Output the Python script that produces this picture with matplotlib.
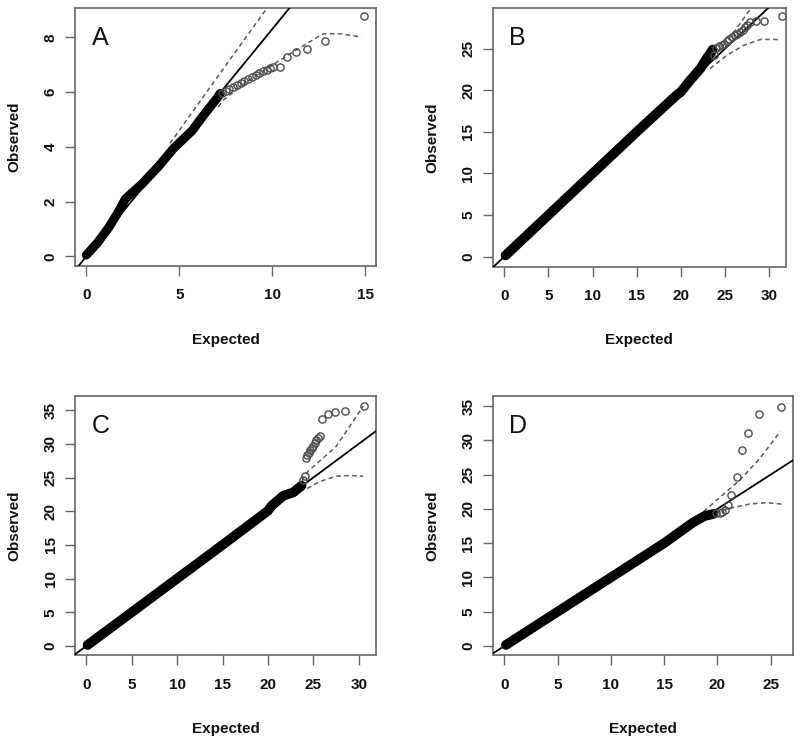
import matplotlib
matplotlib.use("Agg")
import matplotlib.pyplot as plt

plt.rcParams['font.family'] = ['Liberation Sans', 'DejaVu Sans']

# ---------------- Panel A ----------------
band_A_exp = [0.0, 0.6, 1.2, 1.7, 2.1, 3.0, 3.9, 4.7, 5.7, 6.3, 7.0, 7.2]
band_A_obs = [0.05, 0.5, 1.05, 1.6, 2.1, 2.65, 3.3, 3.95, 4.6, 5.15, 5.75, 5.95]
tail_A_exp = [7.3, 7.5, 7.7, 7.9, 8.1, 8.3, 8.5, 8.7, 8.9, 9.1, 9.3, 9.5, 9.7, 9.9, 10.05,
              10.42, 10.8, 11.3, 11.85, 12.83, 14.93]
tail_A_obs = [5.97, 6.05, 6.12, 6.2, 6.27, 6.33, 6.4, 6.47, 6.55, 6.62, 6.7, 6.76, 6.82, 6.88, 6.92,
              6.92, 7.28, 7.47, 7.59, 7.87, 8.78]
upper_A_exp = [4.5, 6.0, 8.0, 9.7]
upper_A_obs = [4.13, 5.55, 7.45, 9.05]
lower_A_exp = [7.1, 7.37, 8.62, 10.4, 11.85, 12.74, 13.64, 14.8]
lower_A_obs = [5.46, 5.71, 6.37, 7.16, 7.77, 8.13, 8.13, 8.01]
slope_A = 0.83

# ---------------- Panel B ----------------
band_B_exp = [0.15, 5.0, 10.0, 15.0, 19.5, 20.0, 21.05, 22.2, 22.9, 23.3, 23.6]
band_B_obs = [0.15, 5.0, 10.0, 15.0, 19.4, 19.8, 21.2, 22.6, 23.8, 24.4, 24.9]
tail_B_exp = [23.7, 24.0, 24.3, 24.6, 24.9, 25.2, 25.5, 25.8, 26.1, 26.4, 26.7, 27.0, 27.3, 27.5,
              27.85, 28.5, 29.4, 31.45]
tail_B_obs = [24.2, 25.1, 25.3, 25.4, 25.6, 25.9, 26.2, 26.4, 26.6, 26.8, 27.0, 27.3, 27.6, 27.8,
              28.2, 28.3, 28.3, 28.9]
upper_B_exp = [23.0, 24.5, 26.0, 27.9]
upper_B_obs = [23.2, 25.0, 27.0, 29.8]
lower_B_exp = [23.3, 25.2, 27.1, 29.0, 31.1]
lower_B_obs = [22.6, 24.2, 25.4, 26.1, 26.1]
slope_B = 1.0

# ---------------- Panel C ----------------
band_C_exp = [0.15, 5.0, 10.0, 15.0, 20.0, 20.4, 21.7, 22.8, 23.7]
band_C_obs = [0.15, 5.0, 10.0, 15.0, 20.06, 20.8, 22.3, 22.8, 23.8]
tail_C_exp = [23.9, 24.06, 24.2, 24.35, 24.5, 24.65, 24.8, 24.97, 25.15, 25.3, 25.5, 25.7,
              25.9, 26.6, 27.4, 28.5, 30.6]
tail_C_obs = [24.6, 25.2, 27.9, 28.3, 28.7, 29.1, 29.4, 29.7, 30.1, 30.5, 30.9, 31.2,
              33.7, 34.4, 34.7, 34.9, 35.6]
upper_C_exp = [23.3, 24.4, 27.5, 30.5]
upper_C_obs = [23.5, 25.9, 29.6, 35.6]
lower_C_exp = [23.5, 24.1, 25.7, 27.5, 29.0, 30.5]
lower_C_obs = [23.0, 23.2, 24.4, 25.2, 25.3, 25.2]
slope_C = 1.0

# ---------------- Panel D ----------------
band_D_exp = [0.15, 5.0, 10.0, 15.0, 17.7, 18.8, 19.6]
band_D_obs = [0.15, 5.0, 10.0, 15.0, 18.0, 18.96, 19.25]
tail_D_exp = [19.9, 20.2, 20.45, 20.7, 21.0, 21.3, 21.8, 22.3, 22.9, 23.9, 26.0]
tail_D_obs = [19.35, 19.45, 19.5, 19.9, 20.6, 22.0, 24.7, 28.6, 31.0, 33.9, 34.9]
upper_D_exp = [18.7, 22.1, 24.0, 25.9]
upper_D_obs = [19.6, 24.2, 27.4, 31.3]
lower_D_exp = [19.0, 21.2, 23.0, 24.6, 26.0]
lower_D_obs = [19.1, 20.1, 20.7, 20.9, 20.7]
slope_D = 1.0

panels = [
    dict(letter="A", band=(band_A_exp, band_A_obs), tail=(tail_A_exp, tail_A_obs),
         upper=(upper_A_exp, upper_A_obs), lower=(lower_A_exp, lower_A_obs), slope=slope_A,
         xlim=(-0.61, 15.58), ylim=(-0.35, 9.07), xticks=[0, 5, 10, 15], yticks=[0, 2, 4, 6, 8],
         rect=[75 / 800, 1 - 266 / 743, 301 / 800, 258 / 743], bw=6.5),
    dict(letter="B", band=(band_B_exp, band_B_obs), tail=(tail_B_exp, tail_B_obs),
         upper=(upper_B_exp, upper_B_obs), lower=(lower_B_exp, lower_B_obs), slope=slope_B,
         xlim=(-1.3, 31.9), ylim=(-1.2, 29.85), xticks=[0, 5, 10, 15, 20, 25, 30],
         yticks=[0, 5, 10, 15, 20, 25],
         rect=[492.7 / 800, 1 - 266.7 / 743, 293.3 / 800, 258.4 / 743], bw=7.0),
    dict(letter="C", band=(band_C_exp, band_C_obs), tail=(tail_C_exp, tail_C_obs),
         upper=(upper_C_exp, upper_C_obs), lower=(lower_C_exp, lower_C_obs), slope=slope_C,
         xlim=(-1.24, 31.9), ylim=(-1.38, 37.1), xticks=[0, 5, 10, 15, 20, 25, 30],
         yticks=[0, 5, 10, 15, 20, 25, 30, 35],
         rect=[75 / 800, 1 - 655.3 / 743, 301 / 800, 259.3 / 743], bw=7.0),
    dict(letter="D", band=(band_D_exp, band_D_obs), tail=(tail_D_exp, tail_D_obs),
         upper=(upper_D_exp, upper_D_obs), lower=(lower_D_exp, lower_D_obs), slope=slope_D,
         xlim=(-1.09, 27.06), ylim=(-1.36, 36.46), xticks=[0, 5, 10, 15, 20, 25],
         yticks=[0, 5, 10, 15, 20, 25, 30, 35],
         rect=[492.7 / 800, 1 - 655.3 / 743, 300 / 800, 259.3 / 743], bw=7.0),
]

fig = plt.figure(figsize=(8.0, 7.43), dpi=100)
box_col = "#666666"
dash_col = "#5a5a5a"

for p in panels:
    ax = fig.add_axes(p["rect"])
    ax.set_xlim(*p["xlim"])
    ax.set_ylim(*p["ylim"])
    # reference line
    ax.axline((0, 0), slope=p["slope"], color="black", lw=1.3, zorder=3)
    # confidence bands
    ax.plot(*p["upper"], color=dash_col, lw=1.1, dashes=(3, 2.2), zorder=2)
    ax.plot(*p["lower"], color=dash_col, lw=1.1, dashes=(3, 2.2), zorder=2)
    # dense observations
    ax.plot(*p["band"], color="black", lw=p["bw"], solid_capstyle="round",
            solid_joinstyle="round", zorder=4)
    # tail observations
    ax.plot(*p["tail"], linestyle="none", marker="o", markersize=5.2,
            markerfacecolor="none", markeredgecolor="#4d4d4d", markeredgewidth=1.0, zorder=4)

    ax.set_xticks(p["xticks"])
    ax.set_yticks(p["yticks"])
    ax.tick_params(axis="both", direction="out", length=7, width=1.0, color=box_col,
                   labelsize=11, labelcolor="#111111")
    ax.tick_params(axis="x", pad=9)
    ax.tick_params(axis="y", pad=5.5)
    for lab in ax.get_xticklabels() + ax.get_yticklabels():
        lab.set_fontweight("bold")
    for lab in ax.get_yticklabels():
        lab.set_rotation(90)
        lab.set_va("center")
    for s in ax.spines.values():
        s.set_color(box_col)
        s.set_linewidth(1.2)
    ax.set_xlabel("Expected", fontsize=11, fontweight="bold", color="#111111", labelpad=22)
    ax.set_ylabel("Observed", fontsize=11, fontweight="bold", color="#111111", labelpad=16)
    ax.text(0.085, 0.885, p["letter"], transform=ax.transAxes, fontsize=18,
            ha="center", va="center", color="#111111")

fig.savefig("out.png", dpi=100)
